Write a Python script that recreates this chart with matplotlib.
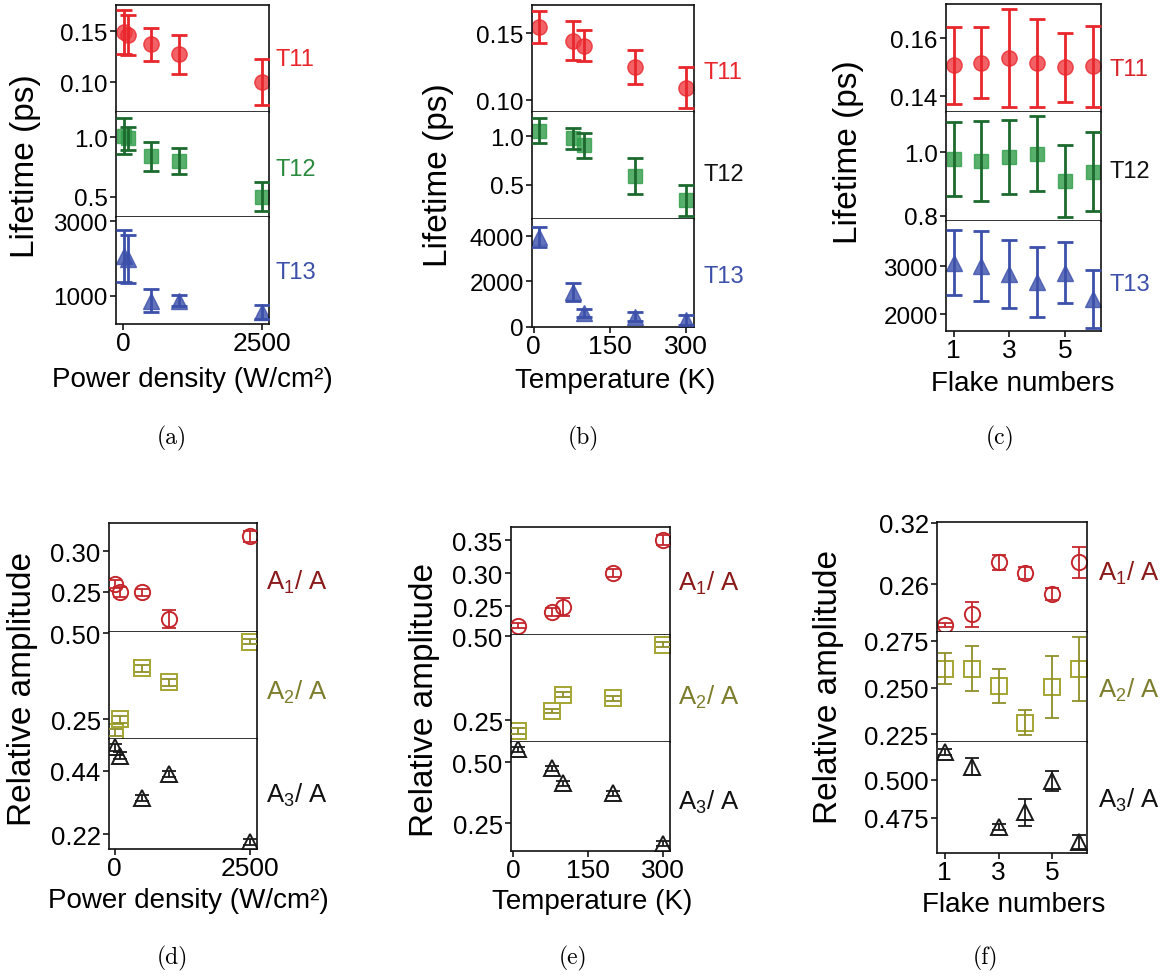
import matplotlib
matplotlib.use("Agg")
import matplotlib.pyplot as plt

plt.rcParams['font.family'] = ['Liberation Sans', 'DejaVu Sans']
plt.rcParams['mathtext.fontset'] = 'custom'
plt.rcParams['mathtext.rm'] = 'Liberation Sans'
plt.rcParams['mathtext.it'] = 'Liberation Sans'

W, H = 1167, 978

# ---------------- data ----------------
power = [10, 90, 500, 1000, 2500]
temp = [10, 77, 100, 200, 300]
flake = [1, 2, 3, 4, 5, 6]

T11_a = [0.149, 0.146, 0.137, 0.127, 0.100]
T11_a_err = [0.022, 0.020, 0.016, 0.019, 0.023]
T12_a = [1.01, 0.99, 0.84, 0.80, 0.50]
T12_a_err = [0.15, 0.10, 0.12, 0.11, 0.12]
T13_a = [2070, 1990, 870, 870, 560]
T13_a_err = [700, 650, 300, 150, 200]

T11_b = [0.1545, 0.1445, 0.1408, 0.1248, 0.1094]
T11_b_err = [0.0121, 0.0144, 0.0113, 0.0129, 0.0152]
T12_b = [1.06, 0.98, 0.91, 0.59, 0.34]
T12_b_err = [0.126, 0.111, 0.129, 0.186, 0.16]
T13_b = [3960, 1530, 590, 440, 290]
T13_b_err = [440, 390, 180, 200, 240]

T11_c = [0.1506, 0.1515, 0.1531, 0.1515, 0.1500, 0.1503]
T11_c_err = [0.0132, 0.0122, 0.0170, 0.0152, 0.0119, 0.0140]
T12_c = [0.979, 0.972, 0.984, 0.995, 0.910, 0.939]
T12_c_err = [0.116, 0.126, 0.116, 0.118, 0.112, 0.123]
T13_c = [3070, 3000, 2830, 2670, 2860, 2310]
T13_c_err = [680, 735, 700, 718, 628, 604]

A1_d = [0.2596, 0.2500, 0.2492, 0.2166, 0.3185]
A1_d_err = [0.005, 0.006, 0.004, 0.011, 0.007]
A2_d = [0.211, 0.250, 0.398, 0.357, 0.476]
A2_d_err = [0.010, 0.010, 0.010, 0.010, 0.008]
A3_d = [0.521, 0.492, 0.345, 0.4285, 0.191]
A3_d_err = [0.012, 0.012, 0.010, 0.012, 0.010]

A1_e = [0.2204, 0.2409, 0.2485, 0.300, 0.350]
A1_e_err = [0.004, 0.006, 0.014, 0.006, 0.008]
A2_e = [0.2186, 0.278, 0.327, 0.316, 0.475]
A2_e_err = [0.008, 0.007, 0.008, 0.008, 0.008]
A3_e = [0.552, 0.475, 0.413, 0.373, 0.166]
A3_e_err = [0.010, 0.010, 0.010, 0.010, 0.010]

A1_f = [0.2197, 0.2305, 0.2813, 0.2708, 0.2502, 0.2813]
A1_f_err = [0.002, 0.0123, 0.0072, 0.0058, 0.006, 0.0151]
A2_f = [0.2602, 0.2602, 0.2509, 0.2313, 0.2504, 0.2602]
A2_f_err = [0.0081, 0.012, 0.0091, 0.0069, 0.0164, 0.0171]
A3_f = [0.5183, 0.5085, 0.4689, 0.4787, 0.4994, 0.4592]
A3_f_err = [0.002, 0.0055, 0.002, 0.0089, 0.0066, 0.0044]

# ---------------- styles ----------------
top_styles = [
    dict(marker='o', fc='#ee3a40', ec='#e8262c', ms=11, ecol='#e8262c'),
    dict(marker='s', fc='#2f9d48', ec='#2f9d48', ms=10, ecol='#1c6a2e'),
    dict(marker='^', fc='#3c50aa', ec='#3c50aa', ms=11, ecol='#3c50aa'),
]
bot_styles = [
    dict(marker='o', ec='#c4262c', ms=11, ecol='#c4262c'),
    dict(marker='s', ec='#a5a532', ms=12, ecol='#8f8f2a'),
    dict(marker='^', ec='#1a1a1a', ms=11, ecol='#1a1a1a'),
]

fig = plt.figure(figsize=(W / 100, H / 100), dpi=100)


def px_axes(x0, y0, x1, y1):
    return fig.add_axes([x0 / W, 1 - y1 / H, (x1 - x0) / W, (y1 - y0) / H])


def ftext(x, y, s, **kw):
    fig.text(x / W, 1 - y / H, s, **kw)


def panel(x0, x1, ys, xdata, series, ylims, yticks, yticklabels, xlim, xticks,
          top_row, tick_fs, right_labels, right_cols, right_x, right_ys, right_fs):
    axes = []
    for i in range(3):
        ax = px_axes(x0, ys[i], x1, ys[i + 1])
        y, e = series[i]
        if top_row:
            st = top_styles[i]
            ax.plot(xdata, y, ls='none', marker=st['marker'], ms=st['ms'],
                    mfc=st['fc'], mec=st['ec'], alpha=0.8, zorder=2)
            ax.errorbar(xdata, y, yerr=e, fmt='none', ecolor=st['ecol'],
                        elinewidth=2.0, capsize=6, capthick=2.0, zorder=3)
        else:
            st = bot_styles[i]
            ax.errorbar(xdata, y, yerr=e, fmt='none', ecolor=st['ecol'],
                        elinewidth=1.3, capsize=5, capthick=1.3, zorder=3)
            ax.plot(xdata, y, ls='none', marker=st['marker'], ms=st['ms'],
                    mfc='none', mec=st['ec'], mew=1.4, zorder=2)
        ax.set_ylim(*ylims[i])
        ax.set_xlim(*xlim)
        ax.set_yticks(yticks[i])
        ax.set_yticklabels(yticklabels[i])
        ax.tick_params(axis='y', direction='out', length=4, width=1.1,
                       labelsize=tick_fs, pad=2)
        for sp in ax.spines.values():
            sp.set_linewidth(1.2)
            sp.set_color('#111111')
        if i > 0:
            ax.spines['top'].set_visible(False)
        if i < 2:
            ax.set_xticks([])
        else:
            ax.set_xticks(xticks)
            ax.set_xticklabels([str(t) for t in xticks])
            ax.tick_params(axis='x', direction='out', length=4, width=1.1,
                           labelsize=19, pad=1)
        ftext(right_x, right_ys[i], right_labels[i], color=right_cols[i],
              fontsize=right_fs, ha='left', va='center')
        axes.append(ax)
    return axes


# (a)
panel(116, 269, [6, 113, 218, 325], power,
      [(T11_a, T11_a_err), (T12_a, T12_a_err), (T13_a, T13_a_err)],
      [(0.0706, 0.1755), (0.329, 1.213), (238, 3116)],
      [[0.10, 0.15], [0.5, 1.0], [1000, 3000]],
      [['0.10', '0.15'], ['0.5', '1.0'], ['1000', '3000']],
      (-131, 2620), [0, 2500], True, 17.5,
      ['T11', 'T12', 'T13'], ['#e8262c', '#2a8a3e', '#3c50aa'], 276, [60, 170, 273], 17)

# (b)
panel(532, 694, [6, 113, 220, 328], temp,
      [(T11_b, T11_b_err), (T12_b, T12_b_err), (T13_b, T13_b_err)],
      [(0.0914, 0.171), (0.148, 1.252), (-20, 4760)],
      [[0.10, 0.15], [0.5, 1.0], [0, 2000, 4000]],
      [['0.10', '0.15'], ['0.5', '1.0'], ['0', '2000', '4000']],
      (-3, 315), [0, 150, 300], True, 17.5,
      ['T11', 'T12', 'T13'], ['#e8262c', '#111111', '#3c50aa'], 703, [73, 175, 277], 17)

# (c)
panel(946, 1101, [5, 113, 222, 332], flake,
      [(T11_c, T11_c_err), (T12_c, T12_c_err), (T13_c, T13_c_err)],
      [(0.1345, 0.1718), (0.784, 1.126), (1654, 3932)],
      [[0.14, 0.16], [0.8, 1.0], [2000, 3000]],
      [['0.14', '0.16'], ['0.8', '1.0'], ['2000', '3000']],
      (0.73, 6.29), [1, 3, 5], True, 17.5,
      ['T11', 'T12', 'T13'], ['#d8242a', '#111111', '#3c50aa'], 1110, [70, 172, 285], 17)

# (d)
panel(109, 257, [524, 633, 740, 850], power,
      [(A1_d, A1_d_err), (A2_d, A2_d_err), (A3_d, A3_d_err)],
      [(0.2004, 0.335), (0.192, 0.504), (0.168, 0.550)],
      [[0.25, 0.30], [0.25, 0.50], [0.22, 0.44]],
      [['0.25', '0.30'], ['0.25', '0.50'], ['0.22', '0.44']],
      (-105, 2625), [0, 2500], False, 18.5,
      [r'A$_1$/ A', r'A$_2$/ A', r'A$_3$/ A'], ['#8b1a1a', '#7d7d2e', '#111111'],
      266, [582, 692, 795], 18.5)

# (e)
panel(511, 670, [528, 636, 743, 852], temp,
      [(A1_e, A1_e_err), (A2_e, A2_e_err), (A3_e, A3_e_err)],
      [(0.206, 0.370), (0.186, 0.504), (0.136, 0.582)],
      [[0.25, 0.30, 0.35], [0.25, 0.50], [0.25, 0.50]],
      [['0.25', '0.30', '0.35'], ['0.25', '0.50'], ['0.25', '0.50']],
      (-4.6, 315), [0, 150, 300], False, 18.5,
      [r'A$_1$/ A', r'A$_2$/ A', r'A$_3$/ A'], ['#8b1a1a', '#7d7d2e', '#111111'],
      678, [583, 697, 802], 18.5)

# (f)
panel(937, 1087, [523, 633, 743, 854], flake,
      [(A1_f, A1_f_err), (A2_f, A2_f_err), (A3_f, A3_f_err)],
      [(0.2131, 0.3207), (0.2209, 0.2798), (0.452, 0.5248)],
      [[0.26, 0.32], [0.225, 0.250, 0.275], [0.475, 0.500]],
      [['0.26', '0.32'], ['0.225', '0.250', '0.275'], ['0.475', '0.500']],
      (0.72, 6.28), [1, 3, 5], False, 18.5,
      [r'A$_1$/ A', r'A$_2$/ A', r'A$_3$/ A'], ['#8b1a1a', '#7d7d2e', '#111111'],
      1098, [573, 690, 800], 18.5)

# axis titles
ylab_fs = 24
ftext(26, 166, 'Lifetime (ps)', rotation=90, fontsize=ylab_fs, ha='center', va='center')
ftext(438, 175, 'Lifetime (ps)', rotation=90, fontsize=ylab_fs, ha='center', va='center')
ftext(848, 152, 'Lifetime (ps)', rotation=90, fontsize=ylab_fs, ha='center', va='center')
ftext(23, 689, 'Relative amplitude', rotation=90, fontsize=ylab_fs, ha='center', va='center')
ftext(424, 700, 'Relative amplitude', rotation=90, fontsize=ylab_fs, ha='center', va='center')
ftext(828, 687, 'Relative amplitude', rotation=90, fontsize=ylab_fs, ha='center', va='center')

xlab_fs = 20
ftext(192, 380, 'Power density (W/cm²)', fontsize=xlab_fs, ha='center', va='center')
ftext(615, 381, 'Temperature (K)', fontsize=xlab_fs, ha='center', va='center')
ftext(1023, 384, 'Flake numbers', fontsize=xlab_fs, ha='center', va='center')
ftext(188, 901, 'Power density (W/cm²)', fontsize=xlab_fs, ha='center', va='center')
ftext(592, 902, 'Temperature (K)', fontsize=xlab_fs, ha='center', va='center')
ftext(1014, 905, 'Flake numbers', fontsize=xlab_fs, ha='center', va='center')

# panel letters
for x, y, s in [(172, 438, '(a)'), (583, 438, '(b)'), (1000, 438, '(c)'),
                (172, 958, '(d)'), (573, 958, '(e)'), (985, 958, '(f)')]:
    ftext(x, y, s, fontsize=17, family='cmr10', ha='center', va='center')

fig.savefig('out.png', dpi=100)
